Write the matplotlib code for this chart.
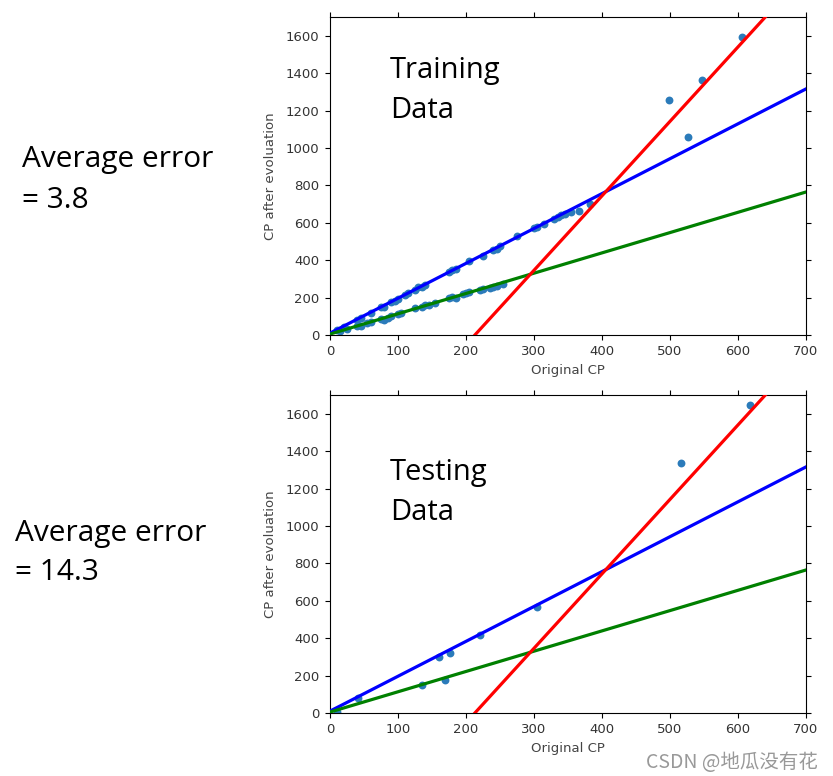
import numpy as np
import matplotlib.pyplot as plt

# 训练数据 (Original CP, CP after evolution)
train_x = [10, 20, 40, 45, 60, 75, 80, 90, 95, 100, 110, 115, 125, 130, 135, 140,
           175, 180, 185, 205, 225, 240, 245, 250, 275, 300, 305, 315, 330, 335,
           340, 345, 355, 366, 383,
           15, 25, 40, 45, 55, 60, 75, 80, 85, 90, 100, 105, 125, 135, 140, 145,
           155, 175, 180, 185, 195, 200, 205, 220, 225, 235, 240, 245, 255,
           499, 527, 547, 606]
train_y = [28, 45, 82, 92, 118, 148, 150, 175, 180, 195, 215, 222, 242, 255, 258, 268,
           335, 345, 355, 395, 425, 455, 460, 475, 530, 570, 580, 595, 620, 630,
           640, 648, 660, 665, 700,
           20, 30, 50, 48, 62, 72, 85, 82, 90, 100, 110, 115, 145, 150, 160, 158,
           172, 198, 205, 200, 220, 222, 230, 240, 245, 252, 255, 262, 270,
           1254, 1056, 1363, 1595]

# 测试数据
test_x = [11, 41, 136, 161, 169, 176, 220, 305, 516, 618]
test_y = [5, 80, 151, 300, 178, 321, 415, 567, 1339, 1645]

# 三条模型直线 y = b + w * x
lines = {"blue": (10, 1.865), "green": (5, 1.085), "red": (-848, 3.98)}

titles = ["Training\nData", "Testing\nData"]
errors = ["Average error\n= 3.8", "Average error\n= 14.3"]

fig = plt.figure(figsize=(8.33, 7.76), dpi=100)
W, H = 833, 776
boxes = [(330, 17, 806, 335), (330, 395, 806, 713)]
err_pos = [(22, 180), (15, 553)]
title_pos = [(390, 56), (390, 458)]

xs = np.linspace(0, 700, 200)
for i, (px, py) in enumerate([(train_x, train_y), (test_x, test_y)]):
    l, t, r, b = boxes[i]
    ax = fig.add_axes([l / W, 1 - b / H, (r - l) / W, (b - t) / H])
    ax.scatter(px, py, s=32, color="#2b7bba", zorder=2, linewidths=0)
    for c, (b0, w) in lines.items():
        ax.plot(xs, b0 + w * xs, color=c, lw=2.3, zorder=3)
    ax.set_xlim(0, 700)
    ax.set_ylim(0, 1700)
    ax.set_xticks(range(0, 701, 100))
    ax.set_yticks(range(0, 1601, 200))
    ax.tick_params(direction="out", top=True, right=True, labelsize=9.5,
                   labelcolor="#333333", length=3.5, pad=4)
    ax.set_xlabel("Original CP", fontsize=9.5, color="#444444", labelpad=4)
    ax.set_ylabel("CP after evoluation", fontsize=9.5, color="#444444", labelpad=6)
    fig.text(title_pos[i][0] / W, 1 - title_pos[i][1] / H, titles[i],
             fontsize=21, family="Open Sans", va="top", linespacing=1.5)
    fig.text(err_pos[i][0] / W, 1 - err_pos[i][1] / H, errors[i],
             fontsize=21.5, family="Open Sans", va="center", linespacing=1.5)

fig.text(818 / W, 1 - 762 / H, "CSDN @地瓜没有花", fontsize=14, color="#999999",
         ha="right", va="center", family=["Noto Sans CJK SC", "DejaVu Sans"])

fig.savefig("out.png", dpi=100)
